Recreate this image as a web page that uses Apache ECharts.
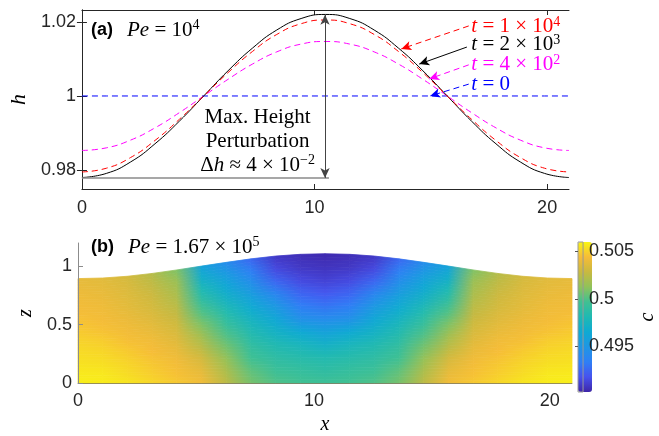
<!DOCTYPE html>
<html>
<head>
<meta charset="utf-8">
<script src="https://cdn.jsdelivr.net/npm/echarts@6/dist/echarts.min.js"></script>
<style>
  html, body { margin: 0; padding: 0; background: #fff; }
  #chart { width: 659px; height: 436px; }
</style>
</head>
<body>
<div id="chart"></div>
<script>
// panel (a): film height h(x) at several times
const xA = [0, 1.047, 2.094, 3.141, 4.188, 5.235, 6.282, 7.329, 8.376, 9.423, 10.47,
            11.517, 12.564, 13.611, 14.658, 15.705, 16.752, 17.799, 18.846, 19.893, 20.94];
const hT0 = [1, 1, 1, 1, 1, 1, 1, 1, 1, 1, 1, 1, 1, 1, 1, 1, 1, 1, 1, 1, 1];
const hT400 = [0.9853, 0.9860, 0.9881, 0.9914, 0.9955, 1.0000, 1.0045, 1.0086, 1.0119, 1.0140, 1.0147,
               1.0140, 1.0119, 1.0086, 1.0045, 1.0000, 0.9955, 0.9914, 0.9881, 0.9860, 0.9853];
const hT2000 = [0.9780, 0.9791, 0.9822, 0.9871, 0.9932, 1.0000, 1.0068, 1.0129, 1.0178, 1.0209, 1.0220,
                1.0209, 1.0178, 1.0129, 1.0068, 1.0000, 0.9932, 0.9871, 0.9822, 0.9791, 0.9780];
const hT10000 = [0.9795, 0.9805, 0.9834, 0.9880, 0.9937, 1.0000, 1.0063, 1.0120, 1.0166, 1.0195, 1.0205,
                 1.0195, 1.0166, 1.0120, 1.0063, 1.0000, 0.9937, 0.9880, 0.9834, 0.9805, 0.9795];

// panel (b): concentration c on nodes (x, s) with z = s * hTop(x)
const xNodes = [0, 1.047, 2.094, 3.141, 4.188, 5.235, 6.282, 7.329, 8.376, 9.423, 10.47,
                11.517, 12.564, 13.611, 14.658, 15.705, 16.752, 17.799, 18.846, 19.893, 20.94];
const hTop = [0.895, 0.900, 0.915, 0.939, 0.969, 1.002, 1.034, 1.064, 1.088, 1.103, 1.108,
              1.103, 1.088, 1.064, 1.034, 1.002, 0.969, 0.939, 0.915, 0.900, 0.895];
const sLevels = [0, 0.1, 0.2, 0.3, 0.4, 0.5, 0.6, 0.7, 0.8, 0.9, 1];
const cGrid = [
  [0.50584, 0.50568, 0.50545, 0.50529, 0.50505, 0.50482, 0.50458, 0.50434, 0.50418, 0.50403, 0.50387],
  [0.50576, 0.50561, 0.50537, 0.50513, 0.50489, 0.50458, 0.50434, 0.50418, 0.50403, 0.50387, 0.50371],
  [0.50553, 0.50529, 0.50505, 0.50482, 0.50450, 0.50426, 0.50403, 0.50379, 0.50363, 0.50347, 0.50324],
  [0.50513, 0.50489, 0.50466, 0.50442, 0.50418, 0.50387, 0.50355, 0.50324, 0.50300, 0.50268, 0.50229],
  [0.50474, 0.50450, 0.50426, 0.50395, 0.50355, 0.50316, 0.50276, 0.50237, 0.50197, 0.50158, 0.50094],
  [0.50426, 0.50387, 0.50331, 0.50252, 0.50181, 0.50094, 0.50008, 0.49913, 0.49810, 0.49699, 0.49589],
  [0.50252, 0.50205, 0.50142, 0.50071, 0.50000, 0.49913, 0.49826, 0.49731, 0.49636, 0.49541, 0.49431],
  [0.50079, 0.50031, 0.49968, 0.49905, 0.49834, 0.49755, 0.49668, 0.49573, 0.49462, 0.49352, 0.49257],
  [0.50000, 0.49944, 0.49889, 0.49818, 0.49731, 0.49636, 0.49518, 0.49391, 0.49257, 0.49146, 0.49083],
  [0.49968, 0.49913, 0.49850, 0.49763, 0.49644, 0.49462, 0.49336, 0.49241, 0.49146, 0.49083, 0.49052],
  [0.49952, 0.49889, 0.49826, 0.49715, 0.49581, 0.49423, 0.49297, 0.49194, 0.49115, 0.49067, 0.49036],
  [0.49968, 0.49913, 0.49850, 0.49763, 0.49644, 0.49462, 0.49336, 0.49241, 0.49146, 0.49083, 0.49052],
  [0.50000, 0.49944, 0.49889, 0.49818, 0.49731, 0.49636, 0.49518, 0.49391, 0.49257, 0.49146, 0.49083],
  [0.50079, 0.50031, 0.49968, 0.49905, 0.49834, 0.49755, 0.49668, 0.49573, 0.49462, 0.49352, 0.49257],
  [0.50252, 0.50205, 0.50142, 0.50071, 0.50000, 0.49913, 0.49826, 0.49731, 0.49636, 0.49541, 0.49431],
  [0.50426, 0.50387, 0.50331, 0.50252, 0.50181, 0.50094, 0.50008, 0.49913, 0.49810, 0.49699, 0.49589],
  [0.50474, 0.50450, 0.50426, 0.50395, 0.50355, 0.50316, 0.50276, 0.50237, 0.50197, 0.50158, 0.50094],
  [0.50513, 0.50489, 0.50466, 0.50442, 0.50418, 0.50387, 0.50355, 0.50324, 0.50300, 0.50268, 0.50229],
  [0.50553, 0.50529, 0.50505, 0.50482, 0.50450, 0.50426, 0.50403, 0.50379, 0.50363, 0.50347, 0.50324],
  [0.50576, 0.50561, 0.50537, 0.50513, 0.50489, 0.50458, 0.50434, 0.50418, 0.50403, 0.50387, 0.50371],
  [0.50584, 0.50568, 0.50545, 0.50529, 0.50505, 0.50482, 0.50458, 0.50434, 0.50418, 0.50403, 0.50387]
];
const cMin = 0.4902, cMax = 0.5060;
const cTicks = [0.495, 0.5, 0.505];
const parula = ['#3e26a8', '#4752ee', '#2f7ff5', '#1f96e4', '#0eaad2', '#1fb9b3',
                '#40c092', '#90c25a', '#c8b940', '#f6bc38', '#f8f515'];

const SANS = 'Liberation Sans';
const SERIF = 'Liberation Serif';
const AX = '#262626';

function pairs(xs, ys) {
  return xs.map((x, k) => [x, ys[k]]);
}

const fieldData = [];
for (let i = 0; i < xNodes.length; i++) {
  for (let j = 0; j < sLevels.length; j++) {
    fieldData.push([xNodes[i], sLevels[j], cGrid[i][j], i, j]);
  }
}

function rich(color) {
  return {
    b: { fontFamily: SANS, fontWeight: 'bold', fontSize: 18, lineHeight: 24, color: '#000' },
    g: { width: 14, lineHeight: 24 },
    i: { fontFamily: SERIF, fontStyle: 'italic', fontWeight: 'normal', fontSize: 21, lineHeight: 24, color: color },
    n: { fontFamily: SERIF, fontWeight: 'normal', fontSize: 21, lineHeight: 24, color: color },
    s: { fontFamily: SERIF, fontWeight: 'normal', fontSize: 14, lineHeight: 13, verticalAlign: 'top', color: color }
  };
}

function tLabel(x, y, text, color) {
  return {
    coord: [x, y], symbol: 'circle', symbolSize: 1,
    itemStyle: { color: 'rgba(0,0,0,0)' },
    label: { show: true, position: 'right', distance: 0, formatter: text, rich: rich(color) }
  };
}

function arrow(x1, y1, x2, y2, color, dashed) {
  return [
    { coord: [x1, y1], lineStyle: { color: color, width: 1, type: dashed ? [6, 4] : 'solid' } },
    { coord: [x2, y2] }
  ];
}

const chart = echarts.init(document.getElementById('chart'), null, { renderer: 'canvas' });

const tickStyle = { show: true, inside: true, length: 5, lineStyle: { color: AX, width: 1 } };
const labelStyle = { fontFamily: SANS, fontSize: 18, color: AX };

const option = {
  animation: false,
  backgroundColor: '#fff',
  title: [
    { left: 86, top: 13, text: '{b|(a)}{g|}{i|Pe}{n| = 10}{s|4}', textStyle: { fontWeight: 'normal', rich: rich('#000') } },
    { left: 86, top: 230, text: '{b|(b)}{g|}{i|Pe}{n| = 1.67 × 10}{s|5}', textStyle: { fontWeight: 'normal', rich: rich('#000') } }
  ],
  grid: [
    { left: 78, top: 10, width: 491, height: 179 },
    { left: 78, top: 243, width: 494, height: 149 },
    { left: 578, top: 242, width: 14, height: 150, show: true, borderColor: '#9a9a9a', borderWidth: 1, backgroundColor: 'rgba(0,0,0,0)', z: 10 }
  ],
  xAxis: [
    { gridIndex: 0, type: 'value', min: 0, max: 20.94, position: 'bottom',
      axisLine: { show: true, lineStyle: { color: AX } }, splitLine: { show: false },
      axisTick: Object.assign({ customValues: [0, 10, 20] }, tickStyle),
      axisLabel: Object.assign({ customValues: [0, 10, 20], margin: 10 }, labelStyle) },
    { gridIndex: 0, type: 'value', min: 0, max: 20.94, position: 'top',
      axisLine: { show: true, lineStyle: { color: AX } }, splitLine: { show: false },
      axisTick: Object.assign({ customValues: [0, 10, 20] }, tickStyle),
      axisLabel: { show: false } },
    { gridIndex: 1, type: 'value', min: 0, max: 20.94, position: 'bottom', z: 10,
      name: 'x', nameLocation: 'middle', nameGap: 32,
      nameTextStyle: { fontFamily: SERIF, fontStyle: 'italic', fontSize: 20, color: '#000' },
      axisLine: { show: true, lineStyle: { color: 'rgba(70,60,20,0.55)', width: 1 } }, splitLine: { show: false },
      axisTick: { show: false },
      axisLabel: Object.assign({ customValues: [0, 10, 20], margin: 9 }, labelStyle) },
    { gridIndex: 2, type: 'value', min: 0, max: 1, show: false }
  ],
  yAxis: [
    { gridIndex: 0, type: 'value', min: 0.9749, max: 1.0232, position: 'left',
      name: 'h', nameLocation: 'middle', nameGap: 50, nameRotate: 90,
      nameTextStyle: { fontFamily: SERIF, fontStyle: 'italic', fontSize: 22, color: '#000' },
      axisLine: { show: true, lineStyle: { color: AX } }, splitLine: { show: false },
      axisTick: Object.assign({ customValues: [0.98, 1, 1.02] }, tickStyle),
      axisLabel: Object.assign({ customValues: [0.98, 1, 1.02], margin: 6 }, labelStyle) },
    { gridIndex: 0, type: 'value', min: 0.9749, max: 1.0232, position: 'right',
      axisLine: { show: true, lineStyle: { color: AX } }, splitLine: { show: false },
      axisTick: Object.assign({ customValues: [0.98, 1, 1.02] }, tickStyle),
      axisLabel: { show: false } },
    { gridIndex: 1, type: 'value', min: 0, max: 1.2, position: 'left', z: 10,
      name: 'z', nameLocation: 'middle', nameGap: 42, nameRotate: 90,
      nameTextStyle: { fontFamily: SERIF, fontStyle: 'italic', fontSize: 20, color: '#000' },
      axisLine: { show: true, lineStyle: { color: '#8c8c8c' } }, splitLine: { show: false },
      axisTick: { show: true, inside: true, length: 5, customValues: [0, 0.5, 1], lineStyle: { color: '#8c8c8c' } },
      axisLabel: Object.assign({ customValues: [0, 0.5, 1], margin: 6 }, labelStyle) },
    { gridIndex: 2, type: 'value', min: cMin, max: cMax, position: 'right', z: 10,
      name: 'c', nameLocation: 'middle', nameGap: 54, nameRotate: 90,
      nameTextStyle: { fontFamily: SERIF, fontStyle: 'italic', fontSize: 20, color: '#000' },
      axisLine: { show: false }, splitLine: { show: false },
      axisTick: { show: true, inside: true, length: 3, customValues: cTicks, lineStyle: { color: '#555' } },
      axisLabel: Object.assign({ customValues: cTicks, margin: 6 }, labelStyle) }
  ],
  visualMap: {
    type: 'continuous', seriesIndex: 4, dimension: 2,
    min: cMin, max: cMax, calculable: false, hoverLink: false,
    left: 578, top: 242, itemWidth: 14, itemHeight: 150, padding: 0,
    text: null, inRange: { color: parula }
  },
  series: [
    { type: 'line', name: 't = 0', xAxisIndex: 0, yAxisIndex: 0, data: pairs(xA, hT0),
      symbol: 'none', lineStyle: { color: '#0000ff', width: 1, type: [6, 4] } },
    { type: 'line', name: 't = 4e2', xAxisIndex: 0, yAxisIndex: 0, data: pairs(xA, hT400), smooth: true,
      symbol: 'none', lineStyle: { color: '#ff00ff', width: 1, type: [6, 4] } },
    { type: 'line', name: 't = 2e3', xAxisIndex: 0, yAxisIndex: 0, data: pairs(xA, hT2000), smooth: true,
      symbol: 'none', lineStyle: { color: '#000000', width: 1 } },
    { type: 'line', name: 't = 1e4', xAxisIndex: 0, yAxisIndex: 0, data: pairs(xA, hT10000), smooth: true,
      symbol: 'none', lineStyle: { color: '#ff0000', width: 1, type: [6, 4] },
      markLine: {
        silent: true, symbol: ['none', 'arrow'], symbolSize: [7, 10],
        label: { show: false }, emphasis: { disabled: true },
        data: [
          arrow(16.63, 1.0189, 13.73, 1.0127, '#ff0000', true),
          arrow(16.55, 1.0132, 14.50, 1.0086, '#000000', false),
          arrow(16.63, 1.0084, 14.93, 1.0046, '#ff00ff', true),
          arrow(16.63, 1.0032, 14.97, 1.0000, '#0000ff', true),
          [
            { coord: [0, 0.9779], symbol: 'none', lineStyle: { color: '#8a8a8a', width: 1.5, type: 'solid' } },
            { coord: [10.62, 0.9779], symbol: 'none' }
          ],
          [
            { coord: [10.45, 0.9779], symbol: 'arrow', lineStyle: { color: '#444', width: 1, type: 'solid' } },
            { coord: [10.45, 1.0219], symbol: 'arrow' }
          ]
        ]
      },
      markPoint: {
        silent: true,
        data: [
          tLabel(16.72, 1.01865, '{i|t}{n| = 1 × 10}{s|4}', '#ff0000'),
          tLabel(16.72, 1.0138, '{i|t}{n| = 2 × 10}{s|3}', '#000000'),
          tLabel(16.72, 1.0084, '{i|t}{n| = 4 × 10}{s|2}', '#ff00ff'),
          tLabel(16.72, 1.0030, '{i|t}{n| = 0}', '#0000ff'),
          {
            coord: [7.55, 0.98784], symbol: 'circle', symbolSize: 1,
            itemStyle: { color: 'rgba(0,0,0,0)' },
            label: {
              show: true, position: 'inside', align: 'center',
              formatter: '{n|Max. Height}\n{n|Perturbation}\n{n|Δ}{i|h}{n| ≈ 4 × 10}{s|−2}',
              rich: rich('#000')
            }
          }
        ]
      }
    },
    {
      type: 'custom', name: 'c', xAxisIndex: 2, yAxisIndex: 2,
      data: fieldData, encode: { x: 0, y: 1 }, silent: true,
      renderItem: function (params, api) {
        const i = api.value(3), j = api.value(4);
        const nS = sLevels.length;
        if (i >= xNodes.length - 1 || j >= nS - 1) return null;
        const idx = params.dataIndexInside;
        const cLB = api.visual('color', idx);
        const cLT = api.visual('color', idx + 1);
        const cRB = api.visual('color', idx + nS);
        const cRT = api.visual('color', idx + nS + 1);
        const x0 = xNodes[i], x1 = xNodes[i + 1];
        const h0 = hTop[i], h1 = hTop[i + 1];
        const s0 = sLevels[j], s1 = sLevels[j + 1];
        const parts = 4;
        const children = [];
        for (let k = 0; k < parts; k++) {
          const sa = s0 + (s1 - s0) * k / parts;
          const sb = s0 + (s1 - s0) * (k + 1) / parts;
          const tm = (k + 0.5) / parts;
          const left = echarts.color.lerp(tm, [cLB, cLT]);
          const right = echarts.color.lerp(tm, [cRB, cRT]);
          const grad = new echarts.graphic.LinearGradient(0, 0, 1, 0, [
            { offset: 0, color: left }, { offset: 1, color: right }
          ]);
          children.push({
            type: 'polygon',
            shape: { points: [
              api.coord([x0, sa * h0]), api.coord([x1, sa * h1]),
              api.coord([x1, sb * h1]), api.coord([x0, sb * h0])
            ] },
            style: { fill: grad, stroke: grad, lineWidth: 0.8 }
          });
        }
        return { type: 'group', children: children };
      }
    }
  ]
};

chart.setOption(option);
</script>
</body>
</html>
